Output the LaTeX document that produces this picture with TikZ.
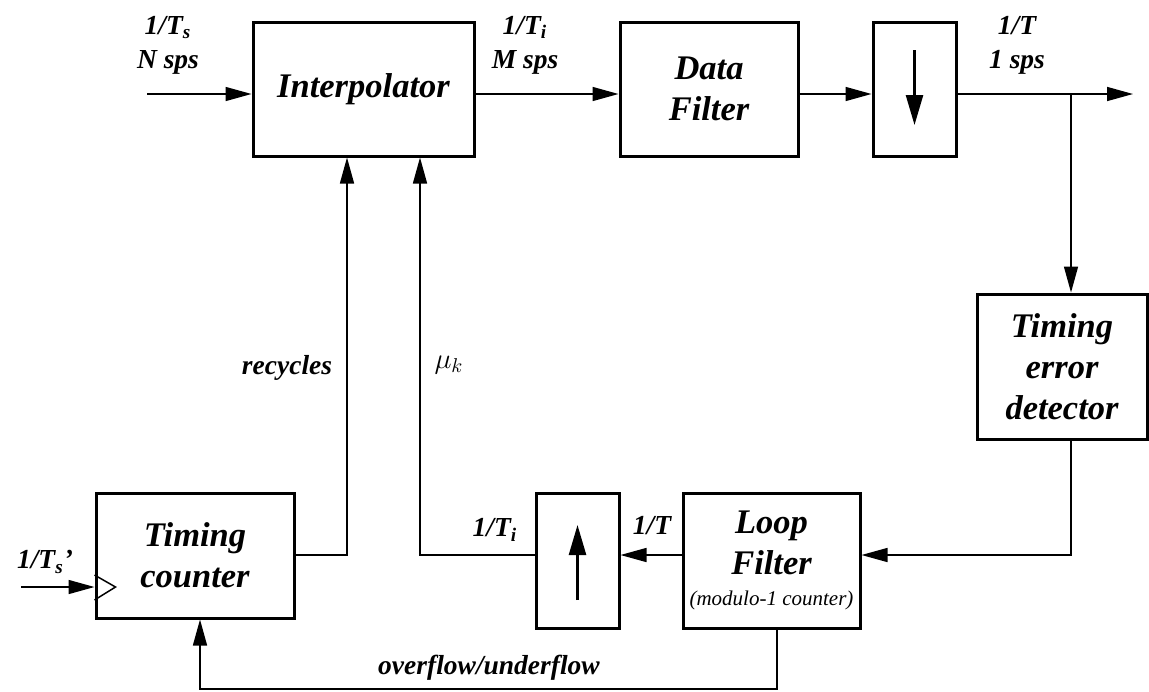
\documentclass[tikz,border=0pt]{standalone}
\usepackage{fontspec}
\setmainfont{Liberation Serif}[
  BoldFont={Liberation Serif Bold},
  ItalicFont={Liberation Serif Italic},
  BoldItalicFont={Liberation Serif Bold Italic}]
\usetikzlibrary{arrows.meta}
\newcommand{\boxfont}{\fontsize{17.25pt}{20.5pt}\selectfont\bfseries\itshape}
\newcommand{\labfont}{\fontsize{13.75pt}{17pt}\selectfont\bfseries\itshape}
\newcommand{\notefont}{\fontsize{10.5pt}{12pt}\selectfont\mdseries\itshape}

\begin{document}
\begin{tikzpicture}[x=0.5pt, y=-0.5pt,
block/.style={draw, line width=1.5pt, inner sep=0pt, align=center, font=\boxfont},
siglabel/.style={align=center, inner sep=0pt, font=\labfont},
wire/.style={line width=0.75pt},
sig/.style={line width=0.75pt, -{Triangle[length=13pt,width=7pt]}},
rate/.style={line width=1.25pt, -{Triangle[length=15pt,width=8.5pt]}},
]
\useasboundingbox (0,0) rectangle (1149,691);

%Nodes
\node[block, minimum width=110.5pt, minimum height=67pt]   (interp) at (363.5,89)   {Interpolator};
\node[block, minimum width=89pt, minimum height=67pt]      (dfilt)  at (709,89)     {Data\\Filter};
\node[block, minimum width=41.5pt, minimum height=67pt]    (down)   at (914.5,89)   {};
\node[block, minimum width=85pt, minimum height=72.5pt]    (ted)    at (1062,366.5) {Timing\\error\\detector};
\node[block, minimum width=88.5pt, minimum height=67.5pt]  (lfilt)  at (771.5,560.5) {Loop\\Filter\\[-5pt]{\notefont (modulo-1 counter)}};
\node[block, minimum width=41.5pt, minimum height=67.5pt]  (up)     at (577.5,560.5) {};
\node[block, minimum width=99pt, minimum height=62.5pt]    (tcount) at (195,555.5)  {Timing\\counter};

%Labels
\node[siglabel] (tsl) at (168,45)  {1/T\textsubscript{s}\\N sps};
\node[siglabel] (til) at (525,45)  {1/T\textsubscript{i}\\M sps};
\node[siglabel] (tl)  at (1017,45) {1/T\\1 sps};
\node[siglabel] (tsp) at (45,562)  {1/T\textsubscript{s}’};
\node[siglabel] (rec) at (287,368) {recycles};
\node[siglabel] (muk) at (449,365) {$\mu_k$};
\node[siglabel] (tib) at (495,530) {1/T\textsubscript{i}};
\node[siglabel] (tb)  at (652,526) {1/T};
\node[siglabel] (ovf) at (489,668) {overflow/underflow};

%Points
\coordinate (in)   at (147,94);
\coordinate (out)  at (1133,94);
\coordinate (br)   at (1071,94);
\coordinate (cin)  at (21,587);
\coordinate (recx) at (347,555);
\coordinate (mux)  at (420,555);
\coordinate (lfx)  at (777,689);
\coordinate (tcx)  at (200,689);

%Lines
\draw[sig] (in) -- (interp.west |- in);
\draw[sig] (interp.east |- in) -- (dfilt.west |- in);
\draw[sig] (dfilt.east |- in) -- (down.west |- in);
\draw[sig] (down.east |- in) -- (out);
\draw[sig] (br) -- (ted.north -| br);
\draw[sig] (ted.south -| br) |- (lfilt.east |- recx);
\draw[sig] (lfilt.west |- recx) -- (up.east |- recx);
\draw[sig] (up.west |- recx) -| (interp.south -| mux);
\draw[sig] (tcount.east |- recx) -| (interp.south -| recx);
\draw[sig] (cin) -- (tcount.west |- cin);
\draw[sig] (lfilt.south -| lfx) |- (tcx) -- (tcount.south -| tcx);

%Rate arrows and clock
\draw[rate] ([yshift=19.5pt]down.center) -- ([yshift=-18pt]down.center);
\draw[rate] ([yshift=-19.75pt]up.center) -- ([yshift=17.75pt]up.center);
\draw[wire] ([yshift=-9.75pt]tcount.west) -- ++(10.5pt,-6pt) -- ++(-10.5pt,-6.5pt);
\end{tikzpicture}
\end{document}
